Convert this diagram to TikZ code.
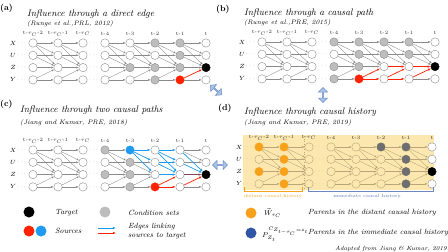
\documentclass[tikz,border=0pt]{standalone}
\usepackage{amsmath,amssymb}
\usepackage{xcolor}
\usepackage{tikz}
\usetikzlibrary{shapes.arrows, arrows.meta, positioning}

\definecolor{condgray}{HTML}{BDBDBD}
\definecolor{nodegray}{HTML}{8C8C8C}
\definecolor{edgegray}{HTML}{8A8A8A}
\definecolor{srcred}{HTML}{FF2200}
\definecolor{srcblue}{HTML}{1E9BF0}
\definecolor{historange}{HTML}{F8A21C}
\definecolor{histgray}{HTML}{6E6E6E}
\definecolor{histblue}{HTML}{2F55A4}
\definecolor{bgyellow}{HTML}{FCE7AE}
\definecolor{tanedge}{HTML}{B9A57A}
\definecolor{arrowfill}{HTML}{A9C2E6}
\definecolor{arrowdraw}{HTML}{6A8CC7}

\tikzstyle{ts} = [circle, draw=nodegray, fill=white, minimum size=8.4pt, inner sep=0pt, line width=0.4pt]
\tikzstyle{tsedge} = [draw=edgegray, line width=0.35pt, -{Latex[length=2.4pt,width=1.9pt]}]
\tikzstyle{rededge} = [draw=srcred, line width=0.7pt, -{Latex[length=3pt,width=2.4pt]}]
\tikzstyle{blueedge} = [draw=srcblue, line width=0.7pt, -{Latex[length=3pt,width=2.4pt]}]
\tikzstyle{mixedge} = [draw=srcred!55!srcblue!80!black, line width=0.7pt, -{Latex[length=3pt,width=2.4pt]}]
\tikzstyle{cond} = [fill=condgray]
\tikzstyle{collab} = [font=\fontsize{5}{6}\selectfont, inner sep=0pt, text=black!80]
\tikzstyle{rowlab} = [font=\fontsize{6.5}{8}\selectfont, inner sep=0pt]
\tikzstyle{dots} = [font=\fontsize{5}{6}\selectfont, inner sep=0pt, text=black!45]
\tikzstyle{plabel} = [anchor=west, font=\fontsize{8.5}{10}\selectfont\bfseries, inner sep=0pt]
\tikzstyle{ptitle} = [anchor=west, font=\fontsize{9.5}{11}\selectfont\itshape, inner sep=0pt]
\tikzstyle{pcite} = [anchor=west, font=\fontsize{6.5}{8}\selectfont\itshape, inner sep=0pt]
\tikzstyle{legdot} = [circle, minimum size=11pt, inner sep=0pt]
\tikzstyle{legtext} = [anchor=west, font=\fontsize{7.5}{9.5}\selectfont\itshape, inner sep=0pt, align=left]
\tikzstyle{linkarrow} = [double arrow, draw=arrowdraw, fill=arrowfill, minimum height=15pt, minimum width=9pt, double arrow head extend=1.5pt, inner sep=0pt, line width=0.5pt]

% panel (a): direct edge
\tikzset{a-5-Z/.style={cond}, a-6-X/.style={cond}, a-6-Z/.style={cond}, a-6-Y/.style={cond},
  a-7-X/.style={cond}, a-7-U/.style={cond}, a-7-Z/.style={cond},
  a-7-Y/.style={fill=srcred, draw=srcred}, a-8-Z/.style={fill=black, draw=black},
  a-7-YZ/.style={rededge}}
% panel (b): causal path
\tikzset{b-4-X/.style={cond}, b-4-Z/.style={cond}, b-4-Y/.style={cond},
  b-5-X/.style={cond}, b-5-U/.style={cond}, b-5-Z/.style={cond},
  b-6-X/.style={cond}, b-6-U/.style={cond}, b-7-X/.style={cond}, b-7-U/.style={cond},
  b-5-Y/.style={fill=srcred, draw=srcred}, b-8-Z/.style={fill=black, draw=black},
  b-5-YZ/.style={rededge}, b-5-YY/.style={rededge}, b-6-ZZ/.style={rededge},
  b-6-YZ/.style={rededge}, b-6-YY/.style={rededge}, b-7-ZZ/.style={rededge}, b-7-YZ/.style={rededge}}
% panel (c): two causal paths
\tikzset{c-4-X/.style={cond}, c-4-Z/.style={cond}, c-5-U/.style={cond}, c-5-Z/.style={cond}, c-5-Y/.style={cond},
  c-5-X/.style={fill=srcblue, draw=srcblue}, c-6-Y/.style={fill=srcred, draw=srcred},
  c-8-Z/.style={fill=black, draw=black},
  c-5-XX/.style={blueedge}, c-5-XU/.style={blueedge}, c-5-XZ/.style={blueedge},
  c-6-XX/.style={blueedge}, c-6-XU/.style={blueedge}, c-6-XZ/.style={blueedge},
  c-6-UU/.style={blueedge}, c-6-UZ/.style={blueedge}, c-6-ZZ/.style={blueedge},
  c-7-XZ/.style={blueedge}, c-7-UZ/.style={blueedge}, c-7-ZZ/.style={mixedge},
  c-6-YY/.style={rededge}, c-6-YZ/.style={rededge}, c-7-YZ/.style={rededge}}
% panel (d): causal history
\tikzset{d-node/.style={fill=none, draw=tanedge}, d-edge/.style={draw=tanedge}, d-dots/.style={text=tanedge},
  d-1-X/.style={fill=historange, draw=historange}, d-1-Z/.style={fill=historange, draw=historange},
  d-2-X/.style={fill=historange, draw=historange}, d-2-U/.style={fill=historange, draw=historange},
  d-2-Z/.style={fill=historange, draw=historange}, d-2-Y/.style={fill=historange, draw=historange},
  d-6-X/.style={fill=histgray, draw=histgray}, d-7-X/.style={fill=histgray, draw=histgray},
  d-7-U/.style={fill=histgray, draw=histgray}, d-7-Z/.style={fill=histgray, draw=histgray},
  d-7-Y/.style={fill=histgray, draw=histgray}, d-8-X/.style={fill=white, draw=nodegray},
  d-8-U/.style={fill=white, draw=nodegray}, d-8-Y/.style={fill=white, draw=nodegray},
  d-8-Z/.style={fill=black, draw=black}}

% time series graph: #1 name, #2 x of first column, #3 y of first row
\newcommand{\tsgraph}[3]{%
  \foreach \dx/\lab [count=\i] in {0/{t-$\tau_C$-2},25/{t-$\tau_C$-1},50/{t-$\tau_C$},72/t-4,97/t-3,122/t-2,147/t-1,173/t}{
    \node[collab] (#1-l\i) at (#2+\dx,#3-9.5) {\lab};
    \foreach \v [count=\k] in {X,U,Z,Y}
      \node[ts, #1-node/.try, #1-\i-\v/.try] (#1-\i-\v) at (#2+\dx,#3+12.3*\k-12.3) {};
  }
  \foreach \v [count=\k] in {X,U,Z,Y}{
    \node[rowlab] (#1-r\v) at (#2-20,#3+12.3*\k-12.3) {$\v$};
    \node[dots, #1-dots/.try] (#1-d\v) at (#2-11,#3+12.3*\k-12.3) {$\cdots$};
    \node[dots, #1-dots/.try] (#1-m\v) at (#2+61,#3+12.3*\k-12.3) {$\cdots$};
  }
  \foreach \i [evaluate=\i as \j using int(\i+1)] in {1,2,4,5,6,7}
    \foreach \a/\b in {X/X,U/U,Z/Z,Y/Y,X/U,X/Z,U/Z,Y/Z}
      \draw[tsedge, #1-edge/.try, #1-\i-\a\b/.try] (#1-\i-\a) -- (#1-\j-\b);
}

\begin{document}
\begin{tikzpicture}[x=1pt, y=-1pt]
    \useasboundingbox (0,0) rectangle (448,252);

    % Titles
    \node[plabel] (a-tag) at (0,8) {(a)};
    \node[ptitle] (a-title) at (27,14) {Influence through a direct edge};
    \node[pcite] (a-cite) at (27,24) {(Runge et al.,PRL, 2012)};
    \node[plabel] (b-tag) at (216,9) {(b)};
    \node[ptitle] (b-title) at (244,13) {Influence through a causal path};
    \node[pcite] (b-cite) at (244,23) {(Runge et al.,PRE, 2015)};
    \node[plabel] (c-tag) at (0,104) {(c)};
    \node[ptitle] (c-title) at (20,110) {Influence through two causal paths};
    \node[pcite] (c-cite) at (20,123) {(Jiang and Kumar, PRE, 2018)};
    \node[plabel] (d-tag) at (218,108) {(d)};
    \node[ptitle] (d-title) at (244,112) {Influence through causal history};
    \node[pcite] (d-cite) at (244,123) {(Jiang and Kumar, PRE, 2019)};

    % Background of the causal history
    \node[fill=bgyellow, anchor=north west, minimum width=191pt, minimum height=55pt, inner sep=0pt] (d-bg) at (243,135) {};
    \coordinate (d-cut1) at (304,136);
    \coordinate (d-cut2) at (304,190);
    \draw[tanedge, dotted, line width=0.6pt] (d-cut1) -- (d-cut2);

    % Graphs
    \tsgraph{a}{33}{43}
    \tsgraph{b}{262}{42}
    \tsgraph{c}{33}{150}
    \tsgraph{d}{259}{147}

    % Distant and immediate history
    \draw[historange, line width=0.5pt] (244,187) |- (302,191) -- (302,187);
    \draw[histblue!70, line width=0.5pt] (308,187) |- (433,191) -- (433,187);
    \node[font=\fontsize{4.5}{5}\selectfont, text=historange] (d-dist) at (273,196.5) {distant causal history};
    \node[font=\fontsize{4.5}{5}\selectfont, text=histblue!80] (d-imm) at (367,196.5) {immediate causal history};

    % Links between panels
    \node[linkarrow, rotate=-40] (ad) at (216,90) {};
    \node[linkarrow, rotate=90] (bd) at (323,95) {};
    \node[linkarrow] (cd) at (220,165) {};

    % Legend
    \node[legdot, fill=black] (tgt) at (29,212) {};
    \node[legtext] (tgt-t) at (55,213) {Target};
    \node[legdot, fill=condgray] (cnd) at (105,212) {};
    \node[legtext] (cnd-t) at (128,213) {Condition sets};
    \node[legdot, fill=srcred] (srcr) at (29,231) {};
    \node[legdot, fill=srcblue] (srcb) at (41,231) {};
    \node[legtext] (src-t) at (55,231) {Sources};
    \coordinate (lb1) at (98,228);
    \coordinate (lb2) at (116,228);
    \coordinate (lr1) at (98,233);
    \coordinate (lr2) at (116,233);
    \draw[blueedge] (lb1) -- (lb2);
    \draw[rededge] (lr1) -- (lr2);
    \node[legtext] (edg-t) at (128,231) {Edges linking\\sources to target};

    \node[legdot, fill=historange] (wdot) at (251,213) {};
    \node[anchor=west, inner sep=0pt, font=\fontsize{7.5}{9}\selectfont] (wsym) at (264,213) {$\vec{W}_{\tau_C}$};
    \node[legtext] (w-t) at (308,213) {Parents in the distant causal history};
    \node[legdot, fill=histblue] (pdot) at (251,233) {};
    \node[anchor=west, inner sep=0pt, font=\fontsize{7.5}{9}\selectfont] (psym) at (262,234) {$P_{Z_t}^{C_{Z_{t-\tau_C}=z_t}}$};
    \node[legtext] (p-t) at (308,233) {Parents in the immediate causal history};

    \node[anchor=east, inner sep=0pt, font=\fontsize{6}{7}\selectfont\itshape] (src) at (447,249) {Adapted from Jiang \& Kumar, 2019};
\end{tikzpicture}
\end{document}
